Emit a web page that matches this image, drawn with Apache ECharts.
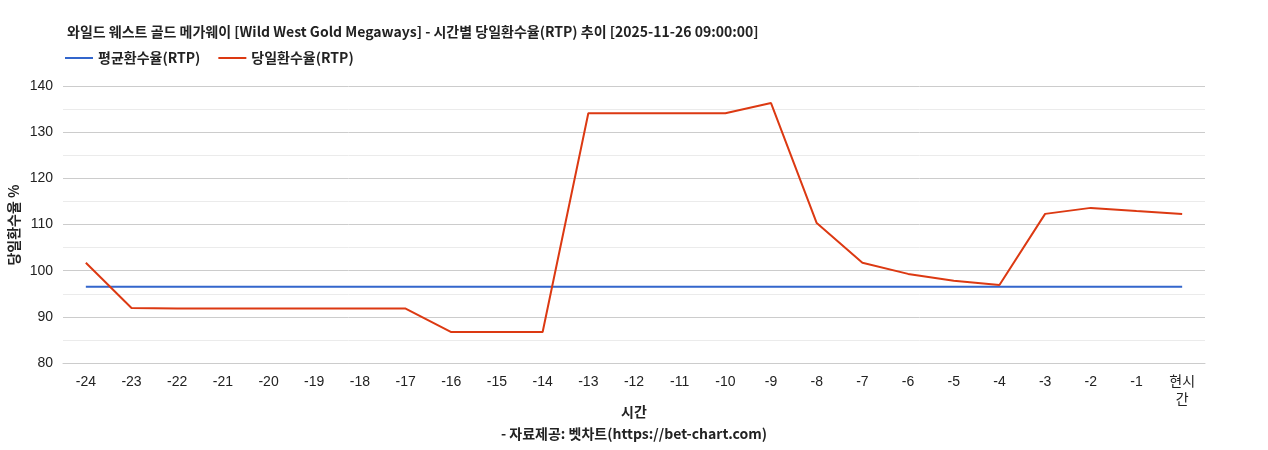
<!DOCTYPE html>
<html><head><meta charset="utf-8">
<script src="https://cdn.jsdelivr.net/npm/echarts@6/dist/echarts.min.js"></script>
<style>html,body{margin:0;padding:0;background:#fff}#c{width:1268px;height:450px}</style>
</head><body><div id="c"></div>
<script>
const categories = ['-24','-23','-22','-21','-20','-19','-18','-17','-16','-15','-14','-13','-12','-11','-10','-9','-8','-7','-6','-5','-4','-3','-2','-1','현시\n간'];
const avgRtp = [96.5,96.5,96.5,96.5,96.5,96.5,96.5,96.5,96.5,96.5,96.5,96.5,96.5,96.5,96.5,96.5,96.5,96.5,96.5,96.5,96.5,96.5,96.5,96.5,96.5];
const dayRtp = [101.7,91.9,91.8,91.8,91.8,91.8,91.8,91.8,86.7,86.7,86.7,134.1,134.1,134.1,134.1,136.3,110.3,101.7,99.3,97.8,96.9,112.3,113.6,112.9,112.3];
const font = '"Liberation Sans", "Noto Sans CJK KR", sans-serif';
const bfont = '"Noto Sans CJK KR", "Liberation Sans", sans-serif';
const chart = echarts.init(document.getElementById('c'));
chart.setOption({
  textStyle:{fontFamily:font},
  title:{text:'와일드 웨스트 골드 메가웨이 [Wild West Gold Megaways] - 시간별 당일환수율(RTP) 추이 [2025-11-26 09:00:00]',left:62,top:20,textStyle:{fontSize:14,fontWeight:'bold',color:'#222',fontFamily:bfont}},
  legend:{left:60,top:46,itemWidth:28,itemHeight:2,itemGap:18,icon:'rect',textStyle:{fontSize:14,fontWeight:'bold',color:'#222',fontFamily:bfont},data:['평균환수율(RTP)','당일환수율(RTP)']},
  grid:{left:63,right:63,top:86,bottom:87},
  xAxis:{type:'category',data:categories,boundaryGap:true,
    axisLine:{lineStyle:{color:'#ccc'}},axisTick:{show:false},
    axisLabel:{color:'#222',fontSize:14,margin:10,interval:0,lineHeight:18,fontFamily:font}},
  yAxis:{type:'value',min:80,max:140,interval:10,
    axisLabel:{color:'#222',fontSize:14,margin:10,fontFamily:font},
    splitLine:{lineStyle:{color:'#ccc'}},
    minorTick:{show:false,splitNumber:2},
    minorSplitLine:{show:true,lineStyle:{color:'#ebebeb'}}},
  graphic:[
    {type:'text',left:'center',top:405,style:{text:'시간',font:'bold 14px '+bfont,fill:'#222'}},
    {type:'text',left:'center',top:427,style:{text:'- 자료제공: 벳차트(https://bet-chart.com)',font:'bold 14px '+bfont,fill:'#222'}},
    {type:'text',x:14,y:225,rotation:Math.PI/2,style:{text:'당일환수율 %',font:'bold 14px '+bfont,fill:'#222',align:'center',verticalAlign:'middle'}}
  ],
  series:[
    {name:'평균환수율(RTP)',type:'line',data:avgRtp,symbol:'none',lineStyle:{color:'#3366cc',width:2},itemStyle:{color:'#3366cc'}},
    {name:'당일환수율(RTP)',type:'line',data:dayRtp,symbol:'none',lineStyle:{color:'#dc3912',width:2},itemStyle:{color:'#dc3912'}}
  ]
});
</script></body></html>
